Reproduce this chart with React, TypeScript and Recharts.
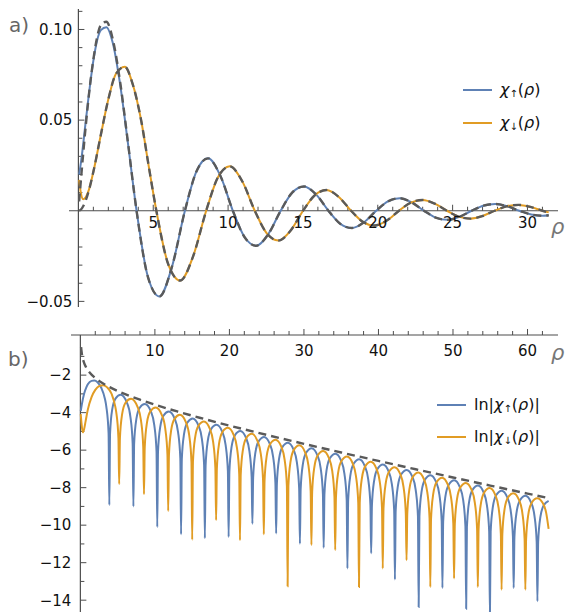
import React from 'react';
import { LineChart, Line, XAxis, YAxis, ReferenceLine } from 'recharts';

type P = [number, number];

const BLUE = '#5E81B5';
const ORANGE = '#E19C24';
const GRAY = '#5a5a5a';
const AXIS = '#4d4d4d';
const TXT = '#111';
const FONT = '"DejaVu Sans", "Liberation Sans", sans-serif';

// ---------- panel a) : chi(rho) ----------
const upTop: P[] = [
  [0.05, 0.02], [0.2, 0.0285], [0.5, 0.05], [0.8, 0.0708], [1.0, 0.0828], [1.5, 0.0996], [1.867, 0.1013], [2.3, 0.0925], [2.8, 0.069], [3.3, 0.0378], [3.886, 0],
  [4.647, -0.0366], [5.407, -0.0473], [6.261, -0.0306], [7.115, 0],
  [7.887, 0.0217], [8.658, 0.0289], [9.488, 0.0192], [10.318, 0],
  [11.095, -0.0145], [11.872, -0.0193], [12.693, -0.0128], [13.513, 0],
  [14.294, 0.0101], [15.075, 0.0134], [15.89, 0.0089], [16.705, 0],
  [17.488, -0.00715], [18.271, -0.00953], [19.083, -0.00634], [19.894, 0],
  [20.68, 0.00516], [21.465, 0.00688], [22.274, 0.00458], [23.083, 0],
  [23.87, -0.00377], [24.657, -0.00502], [25.464, -0.00334], [26.271, 0],
  [27.059, 0.00278], [27.847, 0.0037], [28.653, 0.00246], [29.459, 0],
  [30.248, -0.00206], [31.036, -0.00274], [31.42, -0.00247],
];
const upTopApproxHead: P[] = [
  [0.05, 0.0051], [0.2, 0.02], [0.5, 0.0476], [0.8, 0.071], [1.0, 0.0835], [1.5, 0.1024], [1.867, 0.1043], [2.3, 0.0945], [2.8, 0.0704], [3.3, 0.0384], [3.886, 0],
];
const downTop: P[] = [
  [0.05, 0.017], [0.15, 0.0105], [0.32, 0.0064], [0.5, 0.0076], [0.7, 0.0115],
  [1.0, 0.0215], [1.5, 0.0419], [2.0, 0.0615], [2.5, 0.0754], [3.098, 0.0794], [3.6, 0.0706], [4.2, 0.0495], [4.7, 0.0245], [5.208, 0],
  [6.005, -0.0296], [6.801, -0.0385], [7.669, -0.025], [8.537, 0],
  [9.324, 0.0185], [10.111, 0.0245], [10.948, 0.0162], [11.785, 0],
  [12.571, -0.0123], [13.357, -0.0164], [14.18, -0.0109], [15.006, 0],
  [15.793, 0.00856], [16.58, 0.01141], [17.398, 0.00759], [18.215, 0],
  [19.0, -0.00612], [19.79, -0.00816], [20.6, -0.00543], [21.417, 0],
  [22.206, 0.00445], [22.994, 0.00593], [23.805, 0.00394], [24.615, 0],
  [25.404, -0.00326], [26.193, -0.00435], [27.0, -0.00289], [27.81, 0],
  [28.6, 0.00242], [29.389, 0.00322], [30.196, 0.00214], [31.003, 0], [31.42, -0.0009],
];
const downTopApproxHead: P[] = [
  [0.05, 0.0001], [0.15, 0.0005], [0.32, 0.0025], [0.5, 0.0059], [0.7, 0.0112],
];
const upTopApprox: P[] = [...upTopApproxHead, ...upTop.slice(11)];
const downTopApprox: P[] = [...downTopApproxHead, ...downTop.slice(5)];

// ---------- panel b) : ln|chi(rho)| ----------
const lnUp: P[] = [
  [0.05, -3.912], [0.2, -3.558], [0.5, -2.996], [0.8, -2.648], [1.0, -2.491], [1.5, -2.307], [1.867, -2.29], [2.3, -2.381], [2.8, -2.674], [3.3, -3.275], [3.486, -3.69], [3.786, -5.1], [3.886, -8.93],
  [3.986, -5.1], [4.286, -3.8], [4.736, -3.235], [5.407, -3.051], [6.265, -3.487], [6.715, -4.22], [7.015, -5.63], [7.115, -9.0],
  [7.215, -5.655], [7.515, -4.337], [7.965, -3.74], [8.658, -3.539], [9.468, -3.942], [9.918, -4.66], [10.218, -6.06], [10.318, -10.1],
  [10.418, -6.085], [10.718, -4.761], [11.168, -4.156], [11.872, -3.944], [12.663, -4.334], [13.113, -5.046], [13.413, -6.442], [13.513, -10.49],
  [13.613, -6.465], [13.913, -5.137], [14.363, -4.527], [15.075, -4.31], [15.855, -4.691], [16.305, -5.4], [16.605, -6.794], [16.705, -10.7],
  [16.805, -6.816], [17.105, -5.486], [17.555, -4.873], [18.271, -4.652], [19.044, -5.028], [19.494, -5.735], [19.794, -7.127], [19.894, -10.63],
  [19.994, -7.148], [20.294, -5.816], [20.744, -5.202], [21.465, -4.978], [22.233, -5.351], [22.683, -6.056], [22.983, -7.447], [23.083, -9.92],
  [23.183, -7.467], [23.483, -6.135], [23.933, -5.519], [24.657, -5.293], [25.421, -5.663], [25.871, -6.367], [26.171, -7.758], [26.271, -10.44],
  [26.371, -7.777], [26.671, -6.443], [27.121, -5.826], [27.847, -5.6], [28.609, -5.968], [29.059, -6.67], [29.359, -8.06], [29.459, -10.99],
  [29.559, -8.079], [29.859, -6.745], [30.309, -6.127], [31.036, -5.899], [31.797, -6.266], [32.247, -6.967], [32.547, -8.357], [32.647, -11.21],
  [32.747, -8.375], [33.047, -7.041], [33.497, -6.423], [34.225, -6.193], [34.984, -6.559], [35.434, -7.26], [35.734, -8.649], [35.834, -12.31],
  [35.934, -8.667], [36.234, -7.332], [36.684, -6.713], [37.414, -6.483], [38.171, -6.847], [38.621, -7.548], [38.921, -8.937], [39.021, -11.5],
  [39.121, -8.955], [39.421, -7.62], [39.871, -7.0], [40.602, -6.769], [41.358, -7.133], [41.808, -7.833], [42.108, -9.221], [42.208, -12.9],
  [42.308, -9.239], [42.608, -7.904], [43.058, -7.284], [43.79, -7.052], [44.545, -7.415], [44.995, -8.115], [45.295, -9.503], [45.395, -14.37],
  [45.495, -9.52], [45.795, -8.185], [46.245, -7.564], [46.977, -7.333], [47.732, -7.695], [48.182, -8.394], [48.482, -9.782], [48.582, -13.35],
  [48.682, -9.8], [48.982, -8.464], [49.432, -7.843], [50.164, -7.611], [50.918, -7.972], [51.368, -8.671], [51.668, -10.059], [51.768, -14.46],
  [51.868, -10.076], [52.168, -8.74], [52.618, -8.119], [53.352, -7.887], [54.105, -8.247], [54.555, -8.946], [54.855, -10.334], [54.955, -14.9],
  [55.055, -10.351], [55.355, -9.015], [55.805, -8.394], [56.539, -8.161], [57.292, -8.521], [57.742, -9.22], [58.042, -10.607], [58.142, -13.35],
  [58.242, -10.625], [58.542, -9.288], [58.992, -8.667], [59.726, -8.433], [60.478, -8.793], [60.928, -9.492], [61.228, -10.879], [61.328, -14.06],
  [61.428, -10.896], [61.728, -9.56], [62.178, -8.938], [62.83, -8.701],
];
const lnDown: P[] = [
  [0.05, -4.075], [0.15, -4.556], [0.32, -5.051], [0.5, -4.88], [0.7, -4.465], [1.0, -3.84], [1.5, -3.172], [2.0, -2.789], [2.5, -2.585], [3.098, -2.533], [3.6, -2.651], [4.2, -3.006], [4.7, -3.709], [4.808, -3.96], [5.108, -5.36], [5.208, -7.81],
  [5.308, -5.36], [5.608, -4.07], [6.058, -3.47], [6.801, -3.256], [7.687, -3.7], [8.137, -4.424], [8.437, -5.827], [8.537, -8.35],
  [8.637, -5.854], [8.937, -4.533], [9.387, -3.932], [10.111, -3.729], [10.935, -4.127], [11.385, -4.842], [11.685, -6.24], [11.785, -9.24],
  [11.885, -6.264], [12.185, -4.937], [12.635, -4.33], [13.357, -4.118], [14.156, -4.504], [14.606, -5.214], [14.906, -6.61], [15.006, -10.78],
  [15.106, -6.632], [15.406, -5.303], [15.856, -4.692], [16.58, -4.474], [17.365, -4.853], [17.815, -5.56], [18.115, -6.954], [18.215, -9.74],
  [18.315, -6.975], [18.615, -5.644], [19.065, -5.031], [19.79, -4.809], [20.567, -5.184], [21.017, -5.889], [21.317, -7.282], [21.417, -10.81],
  [21.517, -7.302], [21.817, -5.97], [22.267, -5.354], [22.994, -5.131], [23.765, -5.502], [24.215, -6.206], [24.515, -7.598], [24.615, -10.49],
  [24.715, -7.617], [25.015, -6.284], [25.465, -5.668], [26.193, -5.442], [26.96, -5.811], [27.41, -6.514], [27.71, -7.904], [27.81, -13.26],
  [27.91, -7.923], [28.21, -6.59], [28.66, -5.972], [29.389, -5.745], [30.153, -6.113], [30.603, -6.815], [30.903, -8.205], [31.003, -11.06],
  [31.103, -8.223], [31.403, -6.889], [31.853, -6.271], [32.584, -6.043], [33.345, -6.409], [33.795, -7.11], [34.095, -8.499], [34.195, -11.33],
  [34.295, -8.518], [34.595, -7.183], [35.045, -6.564], [35.776, -6.335], [36.536, -6.7], [36.986, -7.4], [37.286, -8.79], [37.386, -13.3],
  [37.486, -8.808], [37.786, -7.473], [38.236, -6.853], [38.968, -6.623], [39.726, -6.987], [40.176, -7.687], [40.476, -9.076], [40.576, -12.31],
  [40.676, -9.094], [40.976, -7.759], [41.426, -7.139], [42.159, -6.908], [42.916, -7.271], [43.366, -7.971], [43.666, -9.359], [43.766, -11.87],
  [43.866, -9.377], [44.166, -8.041], [44.616, -7.421], [45.349, -7.19], [46.105, -7.552], [46.555, -8.252], [46.855, -9.64], [46.955, -13.3],
  [47.055, -9.657], [47.355, -8.322], [47.805, -7.701], [48.539, -7.469], [49.294, -7.831], [49.744, -8.53], [50.044, -9.918], [50.144, -12.84],
  [50.244, -9.935], [50.544, -8.599], [50.994, -7.979], [51.728, -7.746], [52.483, -8.108], [52.933, -8.806], [53.233, -10.194], [53.333, -13.3],
  [53.433, -10.211], [53.733, -8.875], [54.183, -8.254], [54.917, -8.021], [55.671, -8.382], [56.121, -9.081], [56.421, -10.469], [56.521, -13.44],
  [56.621, -10.486], [56.921, -9.149], [57.371, -8.528], [58.106, -8.295], [58.859, -8.655], [59.309, -9.354], [59.609, -10.741], [59.709, -13.44],
  [59.809, -10.758], [60.109, -9.422], [60.559, -8.8], [61.294, -8.567], [62.047, -8.82], [62.497, -9.33], [62.83, -10.2],
];
const lnEnvelope: P[] = [
  [0.1, -0.51], [0.13, -0.644], [0.2, -0.865], [0.3, -1.075], [0.5, -1.346], [0.75, -1.568], [1, -1.731], [1.5, -1.972], [2, -2.154],
  [3, -2.434], [4, -2.655], [5, -2.843], [6, -3.011], [8, -3.309], [10, -3.575], [13, -3.937], [16, -4.271], [20, -4.69], [25, -5.187],
  [30, -5.662], [35, -6.124], [40, -6.575], [45, -7.019], [50, -7.456], [55, -7.888], [60, -8.317], [62.83, -8.557],
];

// ---------- ticks ----------
const topXTicks = [1, 2, 3, 4, 5, 6, 7, 8, 9, 10, 11, 12, 13, 14, 15, 16, 17, 18, 19, 20, 21, 22, 23, 24, 25, 26, 27, 28, 29, 30, 31];
const topXLabels = [5, 10, 15, 20, 25, 30];
const topYTicks = [-0.05, -0.04, -0.03, -0.02, -0.01, 0.01, 0.02, 0.03, 0.04, 0.05, 0.06, 0.07, 0.08, 0.09, 0.1, 0.11];
const topYLabels: [number, string][] = [[-0.05, '−0.05'], [0.05, '0.05'], [0.1, '0.10']];
const botXTicks = [2, 4, 6, 8, 10, 12, 14, 16, 18, 20, 22, 24, 26, 28, 30, 32, 34, 36, 38, 40, 42, 44, 46, 48, 50, 52, 54, 56, 58, 60, 62];
const botXLabels = [10, 20, 30, 40, 50, 60];
const botYTicks = [-1, -2, -3, -4, -5, -6, -7, -8, -9, -10, -11, -12, -13, -14];
const botYLabels: [number, string][] = [[-2, '−2'], [-4, '−4'], [-6, '−6'], [-8, '−8'], [-10, '−10'], [-12, '−12'], [-14, '−14']];

const TOP_X: [number, number] = [-0.628, 32.04];
const TOP_Y: [number, number] = [-0.0531, 0.1113];
const BOT_X: [number, number] = [-1.257, 64.09];
const BOT_Y: [number, number] = [-14.63, 0.14];

const pts = (a: P[]) => a.map(([x, y]) => ({ x, y }));

const upTick = (len: number) => (p: any) => (
  <line x1={p.x1} y1={p.y1} x2={p.x1} y2={p.y1 - len} stroke={AXIS} strokeWidth={1} />
);
const rightTick = (len: number) => (p: any) => (
  <line x1={p.x1} y1={p.y1} x2={p.x1 + len} y2={p.y1} stroke={AXIS} strokeWidth={1} />
);
const lbl = (value: string, position: 'bottom' | 'left', offset: number) => ({
  value, position, offset, fill: TXT, fontSize: 15, fontFamily: FONT,
});

const lineCommon = { type: 'monotoneX' as const, dot: false, isAnimationActive: false, dataKey: 'y' };

function TopChart() {
  return (
    <LineChart width={568} height={320} margin={{ top: 9, right: 10, bottom: 13, left: 69 }}>
      <XAxis type="number" dataKey="x" domain={TOP_X} hide allowDataOverflow />
      <YAxis type="number" dataKey="y" domain={TOP_Y} hide allowDataOverflow />
      <ReferenceLine y={0} stroke={AXIS} strokeWidth={1.2} />
      <ReferenceLine x={0} stroke={AXIS} strokeWidth={1.2} />
      {topXTicks.map((t) => (
        <ReferenceLine key={'tx' + t} segment={[{ x: t, y: 0 }, { x: t, y: 0 }]}
          shape={upTick(topXLabels.includes(t) ? 6 : 4)}
          label={topXLabels.includes(t) ? lbl(String(t), 'bottom', 7) : undefined} />
      ))}
      {topYTicks.map((t) => {
        const l = topYLabels.find((d) => Math.abs(d[0] - t) < 1e-9);
        return (
          <ReferenceLine key={'ty' + t} segment={[{ x: 0, y: t }, { x: 0, y: t }]}
            shape={rightTick(l ? 6 : 4)} label={l ? lbl(l[1], 'left', 6) : undefined} />
        );
      })}
      <Line {...lineCommon} data={pts(upTop)} stroke={BLUE} strokeWidth={2} />
      <Line {...lineCommon} data={pts(downTop)} stroke={ORANGE} strokeWidth={2} />
      <Line {...lineCommon} data={pts(upTopApprox)} stroke={GRAY} strokeWidth={2.4} strokeDasharray="8 5" />
      <Line {...lineCommon} data={pts(downTopApprox)} stroke={GRAY} strokeWidth={2.4} strokeDasharray="8 5" />
    </LineChart>
  );
}

function BottomChart() {
  return (
    <LineChart width={568} height={292} margin={{ top: 15, right: 10, bottom: 0, left: 71 }}>
      <XAxis type="number" dataKey="x" domain={BOT_X} hide allowDataOverflow />
      <YAxis type="number" dataKey="y" domain={BOT_Y} hide allowDataOverflow />
      <ReferenceLine y={BOT_Y[1]} stroke={AXIS} strokeWidth={1.2} ifOverflow="visible" />
      <ReferenceLine x={0} stroke={AXIS} strokeWidth={1.2} />
      {botXTicks.map((t) => (
        <ReferenceLine key={'bx' + t} segment={[{ x: t, y: BOT_Y[1] }, { x: t, y: BOT_Y[1] }]} ifOverflow="visible"
          shape={upTick(botXLabels.includes(t) ? 6 : 4)}
          label={botXLabels.includes(t) ? lbl(String(t), 'bottom', 10) : undefined} />
      ))}
      {botYTicks.map((t) => {
        const l = botYLabels.find((d) => d[0] === t);
        return (
          <ReferenceLine key={'by' + t} segment={[{ x: 0, y: t }, { x: 0, y: t }]}
            shape={rightTick(l ? 6 : 4)} label={l ? lbl(l[1], 'left', 9) : undefined} />
        );
      })}
      <Line {...lineCommon} data={pts(lnUp)} stroke={BLUE} strokeWidth={2} />
      <Line {...lineCommon} data={pts(lnDown)} stroke={ORANGE} strokeWidth={2} />
      <Line {...lineCommon} data={pts(lnEnvelope)} stroke={GRAY} strokeWidth={2.4} strokeDasharray="8 5" />
    </LineChart>
  );
}

function Overlay() {
  const t = { fontFamily: FONT, fontSize: 16, fill: TXT };
  return (
    <svg width={568} height={612} style={{ position: 'absolute', left: 0, top: 0, pointerEvents: 'none' }}>
      <text x={9} y={32} fontFamily={FONT} fontSize={20} fill="#666">a)</text>
      <text x={8} y={366} fontFamily={FONT} fontSize={20} fill="#666">b)</text>
      <text x={551} y={234} fontFamily={FONT} fontSize={21} fontStyle="italic" fill="#777">ρ</text>
      <text x={551} y={360} fontFamily={FONT} fontSize={21} fontStyle="italic" fill="#777">ρ</text>

      <line x1={463} y1={90} x2={492} y2={90} stroke={BLUE} strokeWidth={2} />
      <text x={500} y={95} {...t}><tspan fontStyle="italic">χ</tspan><tspan fontSize={10} dy={2}>↑</tspan><tspan dy={-2}>(</tspan><tspan fontStyle="italic">ρ</tspan>)</text>
      <line x1={463} y1={123} x2={492} y2={123} stroke={ORANGE} strokeWidth={2} />
      <text x={500} y={128} {...t}><tspan fontStyle="italic">χ</tspan><tspan fontSize={10} dy={2}>↓</tspan><tspan dy={-2}>(</tspan><tspan fontStyle="italic">ρ</tspan>)</text>

      <line x1={437} y1={405} x2={466} y2={405} stroke={BLUE} strokeWidth={2} />
      <text x={474} y={410} {...t}>ln|<tspan fontStyle="italic">χ</tspan><tspan fontSize={10} dy={2}>↑</tspan><tspan dy={-2}>(</tspan><tspan fontStyle="italic">ρ</tspan>)|</text>
      <line x1={437} y1={437} x2={466} y2={437} stroke={ORANGE} strokeWidth={2} />
      <text x={474} y={442} {...t}>ln|<tspan fontStyle="italic">χ</tspan><tspan fontSize={10} dy={2}>↓</tspan><tspan dy={-2}>(</tspan><tspan fontStyle="italic">ρ</tspan>)|</text>
    </svg>
  );
}

export default function App() {
  return (
    <div style={{ position: 'absolute', left: 0, top: 0, width: 568, height: 612, background: '#fff', overflow: 'hidden' }}>
      <div style={{ position: 'absolute', left: 0, top: 0 }}><TopChart /></div>
      <div style={{ position: 'absolute', left: 0, top: 320 }}><BottomChart /></div>
      <Overlay />
    </div>
  );
}
